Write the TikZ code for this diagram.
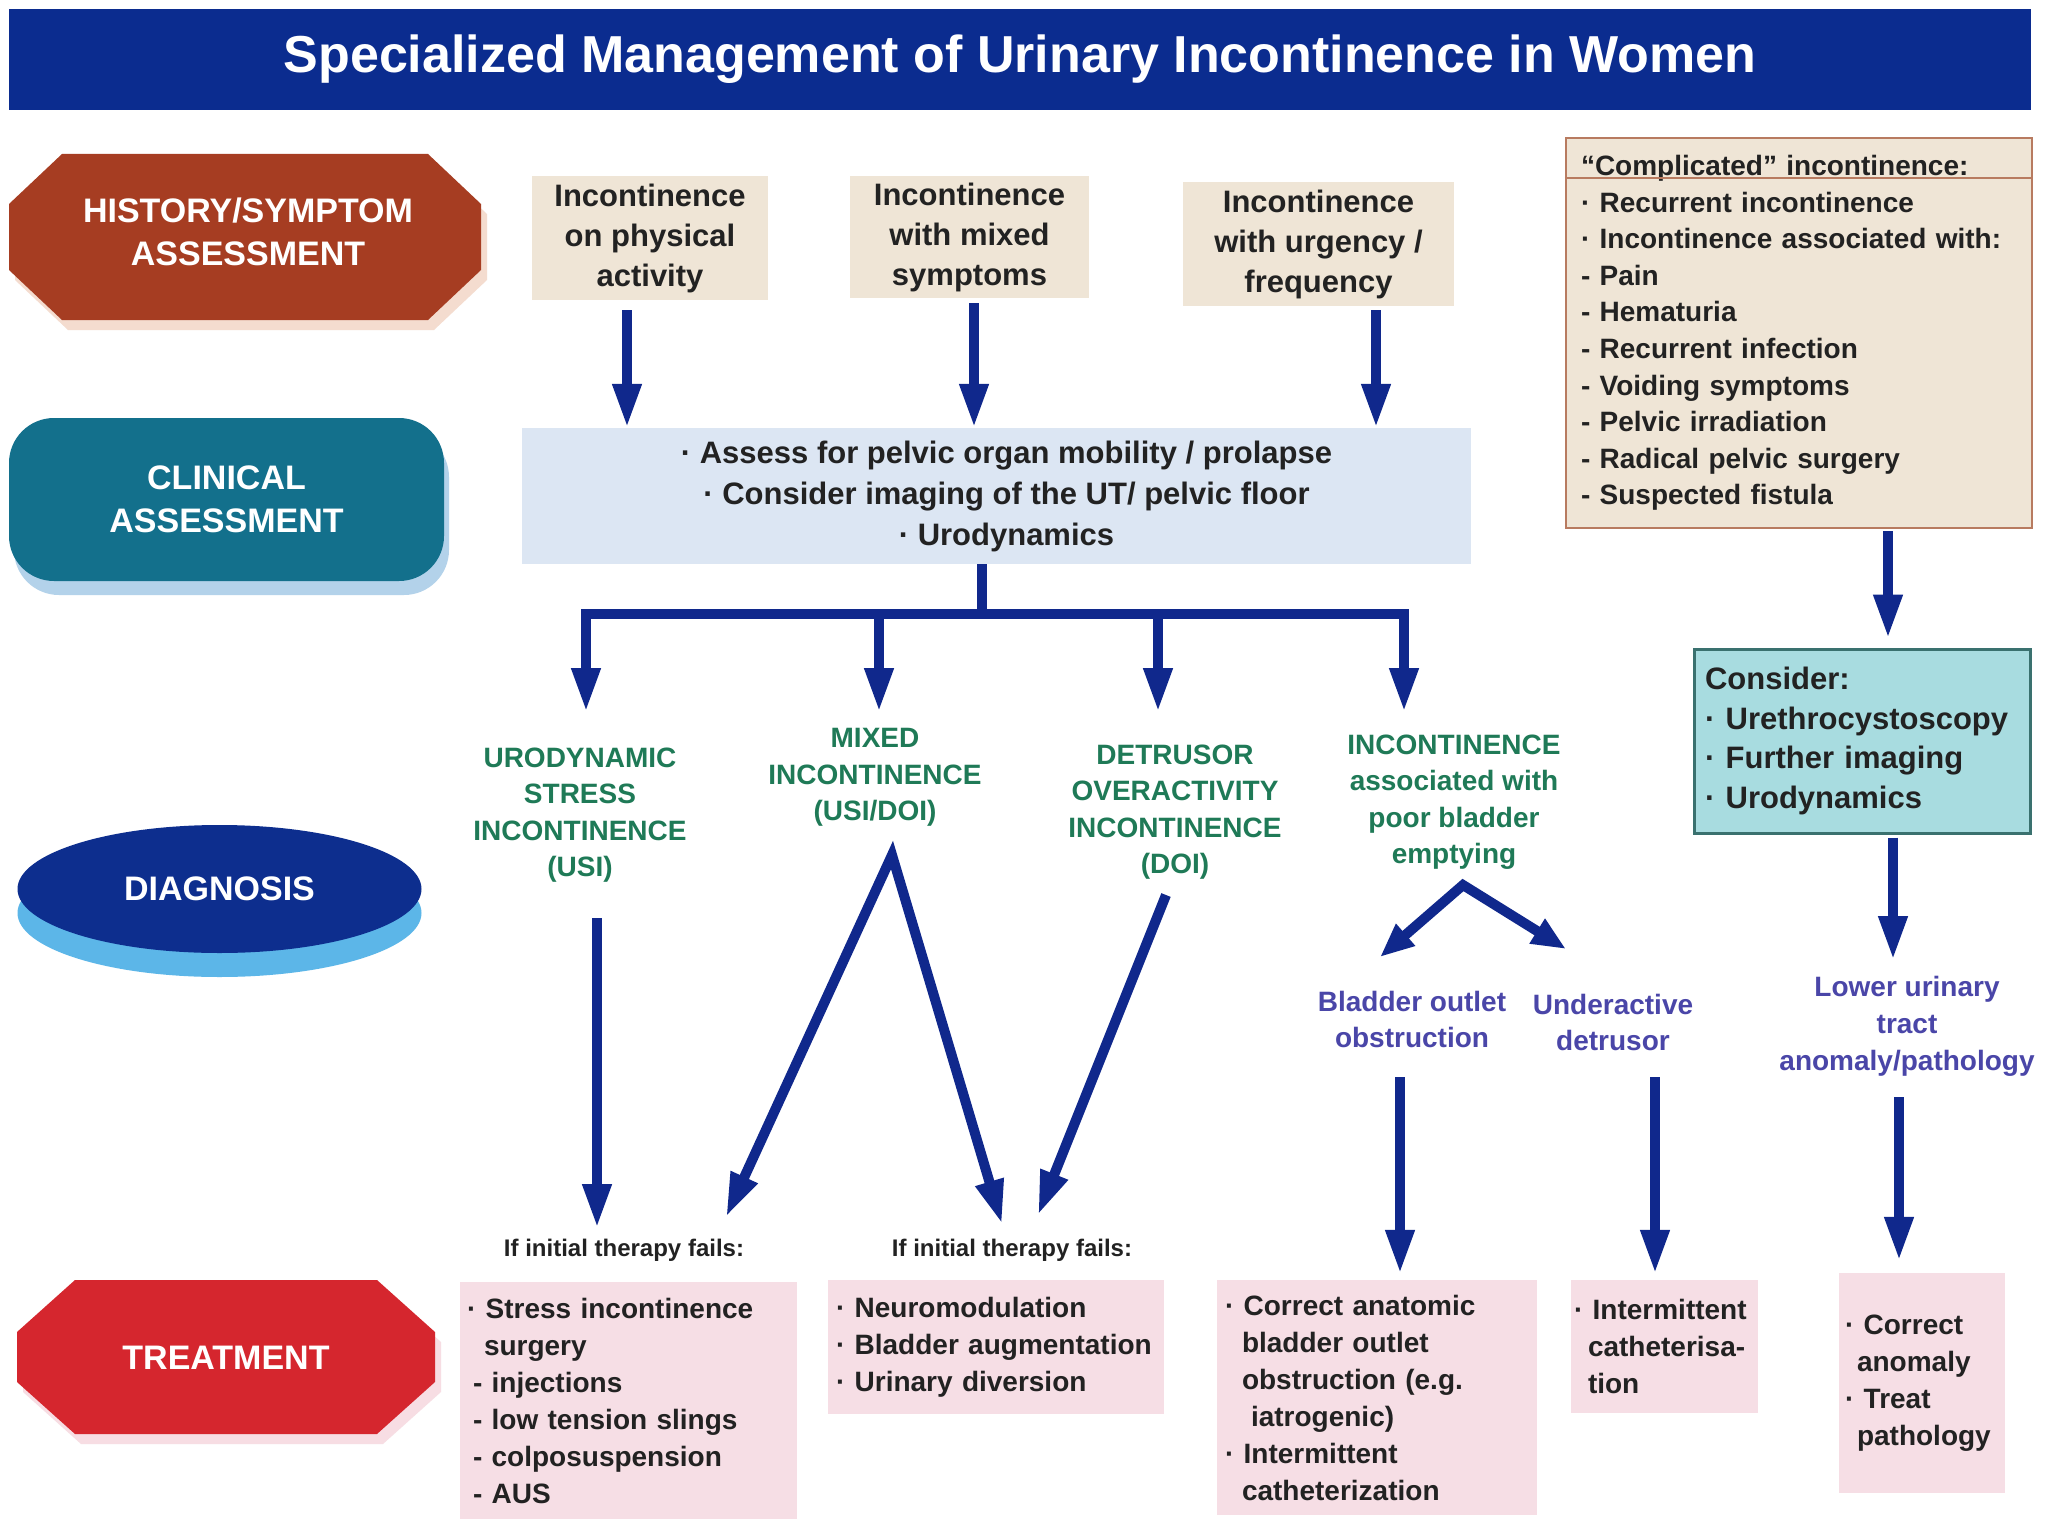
\documentclass[tikz,border=0pt]{standalone}
\usepackage{fontspec}
\setmainfont{Liberation Sans}
\usetikzlibrary{arrows.meta,shapes.geometric,calc}

\definecolor{titleblue}{HTML}{0B2C8F}
\definecolor{histred}{HTML}{A63D22}
\definecolor{histshadow}{HTML}{F4DCCF}
\definecolor{clinteal}{HTML}{13708C}
\definecolor{clinshadow}{HTML}{B3D2EA}
\definecolor{diagnavy}{HTML}{0D2E8E}
\definecolor{diagshadow}{HTML}{5CB6E8}
\definecolor{treatred}{HTML}{D5262E}
\definecolor{treatshadow}{HTML}{F7DDE3}
\definecolor{beige}{HTML}{EFE5D6}
\definecolor{assessblue}{HTML}{DCE6F3}
\definecolor{pinkbox}{HTML}{F6DEE5}
\definecolor{cyanbox}{HTML}{A8DCE0}
\definecolor{cyanedge}{HTML}{3A716F}
\definecolor{cplxedge}{HTML}{B87B60}
\definecolor{greentxt}{HTML}{1F7A57}
\definecolor{purpletxt}{HTML}{4A46A8}
\definecolor{navy}{HTML}{10288C}
\definecolor{txt}{HTML}{222222}

\begin{document}
\begin{tikzpicture}[x=1pt,y=-1pt,
 every node/.style={text=txt},
 arr/.style={draw=navy, line width=10pt, -{Triangle[length=44pt,width=27pt]}},
 dblarr/.style={draw=navy, line width=10pt, line join=miter, {Triangle[length=44pt,width=27pt]}-{Triangle[length=44pt,width=27pt]}},
 smalldbl/.style={draw=navy, line width=10pt, line join=miter, {Triangle[length=34pt,width=27pt]}-{Triangle[length=34pt,width=27pt]}},
 conn/.style={draw=navy, line width=10pt},
 stagetxt/.style={text=white, align=center, font=\fontsize{34}{43}\selectfont\bfseries},
 beigebox/.style={fill=beige, inner sep=0pt, align=center, font=\fontsize{31}{40}\selectfont\bfseries},
 diagtxt/.style={text=greentxt, align=center, font=\fontsize{28}{36.5}\selectfont\bfseries},
 bluetxt/.style={text=purpletxt, align=center, font=\fontsize{28}{36}\selectfont\bfseries},
 failtxt/.style={font=\fontsize{24}{28}\selectfont\bfseries},
 treatbox/.style={fill=pinkbox, align=left, font=\fontsize{28}{37}\selectfont\bfseries, inner ysep=0pt},
]
\useasboundingbox (0,0) rectangle (2048,1536);
\fill[white] (0,0) rectangle (2048,1536);

% title
\node[fill=titleblue, minimum width=2022pt, minimum height=101pt, inner sep=0pt, text=white,
      font=\fontsize{52}{60}\selectfont\bfseries] (title) at (1020,59.5)
      {Specialized Management of Urinary Incontinence in Women};

% stage labels
\fill[histshadow] (68,164) -- (434,164) -- (487,214) -- (487,280) -- (434,330) -- (68,330) -- (15,280) -- (15,214) -- cycle;
\fill[histred] (62,154) -- (428,154) -- (481,204) -- (481,270) -- (428,320) -- (62,320) -- (9,270) -- (9,204) -- cycle;
\node[stagetxt] (hist) at (248,232) {HISTORY/SYMPTOM\\ASSESSMENT};

\fill[clinshadow, rounded corners=45pt] (14,432) rectangle (449,595);
\node[fill=clinteal, rounded corners=45pt, minimum width=435pt, minimum height=163pt, inner sep=0pt, stagetxt] (clin) at (226.5,499.5) {CLINICAL\\ASSESSMENT};

\fill[diagshadow] (219.5,913) ellipse [x radius=202pt, y radius=64pt];
\node[ellipse, fill=diagnavy, minimum width=404pt, minimum height=128pt, inner sep=0pt, stagetxt] (diag) at (219.5,889) {DIAGNOSIS};

\fill[treatshadow] (81,1290) -- (383,1290) -- (441,1342) -- (441,1392) -- (383,1444) -- (81,1444) -- (23,1392) -- (23,1342) -- cycle;
\fill[treatred] (75,1280) -- (377,1280) -- (435,1332) -- (435,1382) -- (377,1434) -- (75,1434) -- (17,1382) -- (17,1332) -- cycle;
\node[stagetxt] (treat) at (226,1358) {TREATMENT};

% top boxes
\node[beigebox, minimum width=236pt, minimum height=124pt] (b1) at (650,238) {Incontinence\\on physical\\activity};
\node[beigebox, minimum width=239pt, minimum height=122pt] (b2) at (969.5,237) {Incontinence\\with mixed\\symptoms};
\node[beigebox, minimum width=271pt, minimum height=124pt] (b3) at (1318.5,244) {Incontinence\\with urgency /\\frequency};

\node[fill=assessblue, minimum width=949pt, minimum height=136pt, inner sep=0pt, align=center,
      font=\fontsize{31}{41}\selectfont\bfseries] (assess) at (996.5,496)
      {\hspace*{20pt}·~Assess for pelvic organ mobility / prolapse\\\hspace*{20pt}·~Consider imaging of the UT/ pelvic floor\\\hspace*{20pt}·~Urodynamics};

\coordinate (xa) at (627,0);
\coordinate (xb) at (974,0);
\coordinate (xc) at (1376,0);
\draw[arr] ($(b1.south -| xa)+(0,10)$) -- (assess.north -| xa);
\draw[arr] ($(b2.south -| xb)+(0,5)$) -- (assess.north -| xb);
\draw[arr] ($(b3.south -| xc)+(0,4)$) -- (assess.north -| xc);

% complicated box
\node[fill=beige, draw=cplxedge, line width=2.5pt, text width=436pt, inner xsep=15pt, minimum height=390pt,
      align=left, font=\fontsize{28}{36.6}\selectfont\bfseries] (cplx) at (1799,333)
      {“Complicated” incontinence:\\
       ·~Recurrent incontinence\\
       ·~Incontinence associated with:\\
       -~Pain\\
       -~Hematuria\\
       -~Recurrent infection\\
       -~Voiding symptoms\\
       -~Pelvic irradiation\\
       -~Radical pelvic surgery\\
       -~Suspected fistula};
\draw[cplxedge, line width=2.5pt] ($(cplx.north west)+(0,41)$) -- ($(cplx.north east)+(0,41)$);

\node[fill=cyanbox, draw=cyanedge, line width=3pt, text width=314pt, inner xsep=11pt, minimum height=184pt,
      align=left, font=\fontsize{31}{39.7}\selectfont\bfseries] (cons) at (1862,741)
      {Consider:\\·~Urethrocystoscopy\\·~Further imaging\\·~Urodynamics};

\coordinate (xcp) at (1888,0);
\draw[arr] ($(cplx.south -| xcp)+(0,2)$) -- ($(cons.north -| xcp)+(0,-9)$);

% tree
\coordinate (jt) at (982,614);
\coordinate (j1) at (586,614);
\coordinate (j2) at (879,614);
\coordinate (j3) at (1158,614);
\coordinate (j4) at (1404,614);
\coordinate (d1) at (586,712);
\coordinate (d2) at (879,712);
\coordinate (d3) at (1158,712);
\coordinate (d4) at (1404,712);
\draw[conn] (assess.south -| jt) -- (jt);
\draw[conn, line cap=rect] (j1) -- (j4);
\draw[arr] (j1) -- (d1);
\draw[arr] (j2) -- (d2);
\draw[arr] (j3) -- (d3);
\draw[arr] (j4) -- (d4);

% diagnoses
\node[diagtxt] (usi) at (580,815) {URODYNAMIC\\STRESS\\INCONTINENCE\\(USI)};
\node[diagtxt] (mix) at (875,777.5) {MIXED\\INCONTINENCE\\(USI/DOI)};
\node[diagtxt] (doi) at (1175,812) {DETRUSOR\\OVERACTIVITY\\INCONTINENCE\\(DOI)};
\node[diagtxt] (poor) at (1454,802) {INCONTINENCE\\associated with\\poor bladder\\emptying};

\node[bluetxt] (bo) at (1412,1019) {Bladder outlet\\obstruction};
\node[bluetxt] (ud) at (1613,1022.5) {Underactive\\detrusor};
\node[bluetxt, font=\fontsize{28}{37}\selectfont\bfseries] (lut) at (1907,1026) {Lower urinary\\tract\\anomaly/pathology};

\node[failtxt] (f1) at (624,1250) {If initial therapy fails:};
\node[failtxt] (f2) at (1012,1250) {If initial therapy fails:};

% treatments
\node[treatbox, text width=323pt, inner xsep=7pt, minimum height=237pt] (t1) at (628.5,1400.5)
  {·~Stress incontinence\\\hspace*{17pt}surgery\\\hspace*{6pt}-~injections\\\hspace*{6pt}-~low tension slings\\\hspace*{6pt}-~colposuspension\\\hspace*{6pt}-~AUS};
\node[treatbox, text width=320pt, inner xsep=8pt, minimum height=134pt] (t2) at (996,1347)
  {·~Neuromodulation\\·~Bladder augmentation\\·~Urinary diversion};
\node[treatbox, text width=304pt, inner xsep=8pt, minimum height=235pt] (t3) at (1377,1397.5)
  {·~Correct anatomic\\\hspace*{17pt}bladder outlet\\\hspace*{17pt}obstruction (e.g.\\\hspace*{26pt}iatrogenic)\\·~Intermittent\\\hspace*{17pt}catheterization};
\node[treatbox, text width=181pt, inner xsep=3pt, minimum height=133pt] (t4) at (1664.5,1346.5)
  {·~Intermittent\\\hspace*{14pt}catheterisa-\\\hspace*{14pt}tion};
\node[treatbox, text width=154pt, inner xsep=6pt, minimum height=220pt] (t5) at (1922,1383)
  {·~Correct\\\hspace*{12pt}anomaly\\·~Treat\\\hspace*{12pt}pathology};

% diagnosis to treatment connectors
\coordinate (usiA) at (597,918);
\coordinate (usiB) at (597,1228);
\draw[arr] (usiA) -- (usiB);
\coordinate (mapex) at (892,855);
\coordinate (mL) at (726,1217);
\coordinate (mR) at (1002,1224);
\draw[dblarr] (mL) -- (mapex) -- (mR);
\coordinate (dA) at (1166,895);
\coordinate (dB) at (1038,1215);
\draw[arr] (dA) -- (dB);
\coordinate (papex) at (1463,885);
\coordinate (pL) at (1380,957);
\coordinate (pR) at (1566,949);
\draw[smalldbl] (pL) -- (papex) -- (pR);

\coordinate (boA) at (1400,1077);
\coordinate (udA) at (1655,1077);
\draw[arr] (boA) -- ($(t3.north -| boA)+(0,-6)$);
\draw[arr] (udA) -- ($(t4.north -| udA)+(0,-6)$);

\coordinate (xcl) at (1893,0);
\coordinate (lutTop) at (1893,960);
\draw[arr] ($(cons.south -| xcl)+(0,3)$) -- (lutTop);
\coordinate (lutA) at (1899,1097);
\draw[arr] (lutA) -- ($(t5.north -| lutA)+(0,-12)$);
\end{tikzpicture}
\end{document}
